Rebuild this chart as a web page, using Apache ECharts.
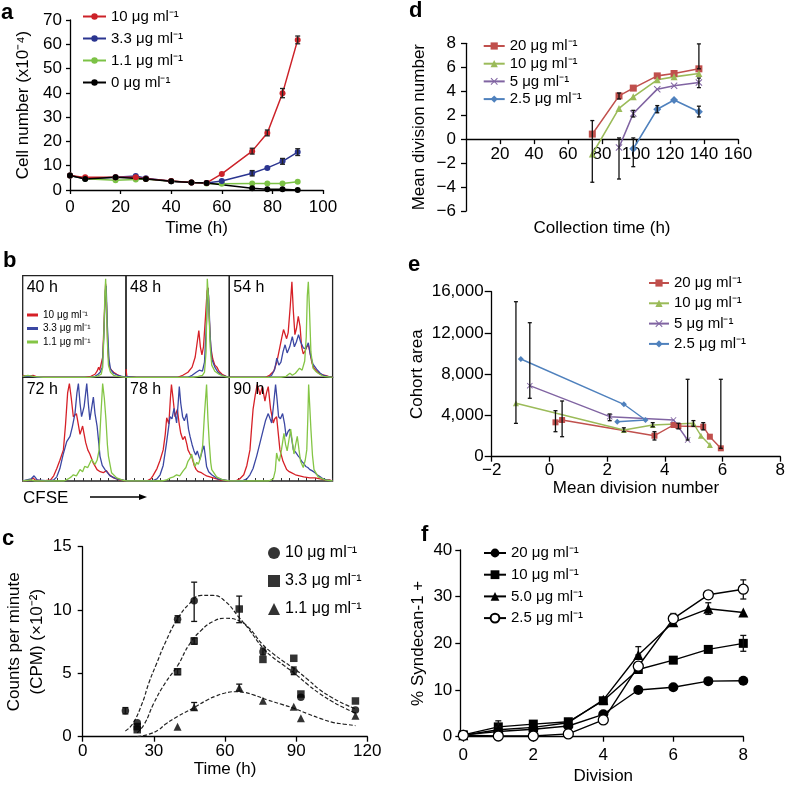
<!DOCTYPE html>
<html><head><meta charset="utf-8">
<script src="https://cdn.jsdelivr.net/npm/echarts@6/dist/echarts.min.js"></script>
<style>html,body{margin:0;padding:0;background:#fff}#c{width:788px;height:787px}</style>
</head><body><div id="c"></div>
<script>
// ===== Panel a: cell number vs time =====
const aTime  = [0, 6, 18, 26, 30, 40, 48, 54, 60, 72, 78, 84, 90];
const aRed   = [6.0, 5.2, 5.3, 5.2, 4.6, 3.7, 3.1, 2.9, 6.6, 16.0, 23.5, 39.8, 61.8];
const aBlue  = [6.0, 4.7, 5.2, 5.8, 4.8, 3.6, 3.1, 2.9, 3.7, 6.9, 9.1, 11.8, 15.6];
const aGreen = [6.0, 4.6, 4.0, 4.3, 4.5, 3.6, 3.1, 2.7, 2.6, 2.7, 2.7, 2.7, 3.4];
const aBlack = [6.0, 4.5, 5.2, null, 4.5, 3.6, 3.1, 2.9, null, 0.7, 0.3, 0.3, 0.0];
const aErr   = [[72,14.8,17.2],[78,22.3,24.7],[84,38.0,41.8],[90,60.2,63.4],[72,5.8,8.0],[84,10.6,13.0],[90,14.2,17.0]];
const aLegend = ['10 μg ml⁻¹', '3.3 μg ml⁻¹', '1.1 μg ml⁻¹', '0 μg ml⁻¹'];

// ===== Panel b: CFSE histograms [x %, height %] =====
const bTimes = ['40 h', '48 h', '54 h', '72 h', '78 h', '90 h'];
const bLegend = ['10 μg ml⁻¹', '3.3 μg ml⁻¹', '1.1 μg ml⁻¹'];
const b40Red = [[0,2],[5,1],[10,2],[15,0],[60,0],[66,1],[70,3],[72,6],[73.5,10],[74.5,7],[76,6],[77.5,20],[79,60],[80.3,92],[81.2,70],[82.5,25],[84,10],[86,7],[88,5],[91,3],[95,1],[100,0]];
const b40Blue = [[0,1],[10,1],[15,0],[65,0],[70,1],[73,3],[75,5],[77,10],[78.5,40],[80,85],[80.8,90],[82,50],[83.5,18],[85,8],[88,4],[92,2],[96,1],[100,0]];
const b40Green = [[0,1],[5,2],[10,1],[20,0],[65,0],[72,1],[76,3],[77.5,10],[78.5,40],[79.5,80],[80.3,97],[81,75],[82,35],[83,12],[85,5],[88,2],[92,1],[100,0]];
const b48Red = [[0,8],[0.8,1],[10,0],[50,0],[55,2],[60,5],[64,10],[67,20],[69,35],[70.5,46],[72,30],[73.5,22],[75,30],[77,60],[78.5,85],[79.5,88],[80.5,60],[82,30],[84,18],[86,12],[88,10],[90,6],[93,3],[97,1],[100,0]];
const b48Blue = [[0,1],[10,0],[60,0],[64,2],[68,5],[71,7],[72.5,8],[74,6],[76,15],[78,55],[79,88],[80,80],[81.5,40],[83,18],[86,10],[89,5],[93,2],[100,0]];
const b48Green = [[0,0],[65,0],[70,1],[74,2],[76,5],[77.5,25],[78.7,97],[80,75],[81.5,30],[83,12],[86,6],[90,3],[95,1],[100,0]];
const b54Red = [[0,0],[35,0],[39,2],[43,6],[46,15],[49,30],[51,40],[52.5,47],[54,48],[55.5,38],[57,44],[59,70],[60.6,94],[62,65],[63.5,42],[65,48],[66.8,60],[68.5,50],[70,30],[71.6,23],[73.5,26],[75,30],[76.5,32],[78,25],[80,14],[82,9],[84.5,6],[88,3],[92.6,2],[96,1],[100,0]];
const b54Blue = [[0,0],[38,0],[41,2],[44,8],[46,19],[48,12],[50,15],[52,25],[54,32],[56,24],[58.5,30],[61,40],[63,30],[65,35],[67,42],[69,35],[71.6,29],[74,28],[76.5,34],[78.5,22],[81,13],[84.5,8],[88,4],[91,2],[95,1],[100,0]];
const b54Green = [[0,0],[50,0],[55,1],[58.7,4],[61,2],[64,4],[68,9],[70.5,7],[73,16],[74.5,40],[75.5,80],[76.5,94],[77.5,70],[79,25],[81,9],[83.5,6],[86,4],[91,1],[100,0]];
const b72Red = [[0,0],[8,1],[10,3],[12,1],[20,0],[27,1],[30,5],[33,12],[36,20],[39.4,30],[41.5,55],[43.5,85],[45.2,94],[47,80],[49,62],[52,65],[55.5,45],[58,53],[61,37],[63,30],[65,26],[68,18],[72,11],[75,9],[78,8],[81,10],[84,6],[88,3],[94,1],[100,0]];
const b72Blue = [[0,0],[8,2],[11,5],[14,1],[25,0],[30,1],[33,4],[36,12],[39,25],[42.6,38],[45.8,43],[48,52],[50.6,65],[52.5,85],[53.9,94],[55.5,75],[57,62],[59.5,72],[62,94],[63.5,75],[65,59],[67,72],[68.4,81],[70,65],[72,53],[73.5,38],[74.8,24],[77,15],[79.7,11],[84.5,5],[91,2],[96,1],[100,0]];
const b72Green = [[0,0],[8,1],[12,0],[40,0],[44,2],[47,4],[49,6],[52,5],[55.5,11],[58,9],[60,14],[63,13],[66.8,21],[68.5,18],[70,16],[72,20],[74,30],[75.5,60],[77.4,94],[79,80],[80.6,59],[82,35],[83,24],[86,8],[91,3],[96,1],[100,0]];
const b78Red = [[0,0],[20,0],[24,2],[26,5],[30,12],[33,20],[36,30],[38,45],[39.4,61],[41.5,55],[43,80],[44,93],[45.5,80],[47.4,62],[49.7,69],[51.5,55],[53,46],[55,40],[57,43],[59,35],[60,30],[62,26],[63.5,24],[66,15],[68,11],[70,9],[73,8],[76,6],[78,5],[84.5,3],[91,1],[100,0]];
const b78Blue = [[0,0],[25,0],[30,2],[33,6],[36,15],[39,35],[41,50],[42.6,62],[44.5,60],[46.5,70],[49,56],[50.5,75],[51.6,91],[53,75],[54.8,62],[56.5,58],[58.7,65],[60.5,50],[62,43],[64,35],[65.8,29],[67.5,25],[69,29],[70.5,24],[71.6,21],[73.5,28],[75.5,34],[77,22],[78,14],[80,9],[83,6],[89,2],[95,1],[100,0]];
const b78Green = [[0,0],[35,0],[39,1],[43,3],[46,4],[49,6],[52,5],[55.5,10],[58,13],[60,19],[62,22],[63.5,26],[65,20],[66.8,14],[68.5,18],[70,16],[72,22],[74.2,34],[76,65],[78,93],[79.3,60],[80.6,37],[82,18],[83,11],[87.7,4],[94,1],[100,0]];
const b90Red = [[0,0],[6,0],[10,2],[14,6],[17,15],[20,30],[21.5,50],[23,69],[25,82],[27,93],[28.5,88],[29.7,83],[32,91],[34.5,77],[36,85],[37.7,91],[40,69],[42.6,56],[44,60],[45.8,62],[47.5,45],[49,30],[52,19],[55.5,11],[58,9],[60,8],[64,6],[68,5],[72,4],[78,3],[83,3],[88,2],[93,1],[97,1],[100,0]];
const b90Blue = [[0,0],[12,0],[17,2],[20,6],[23,12],[26.5,24],[30,38],[33,50],[35,58],[37.7,65],[39.5,60],[41,56],[43,75],[44.8,93],[46.3,78],[47.7,62],[49.5,60],[51.6,65],[53.5,55],[55,43],[57,48],[58.7,50],[60.5,40],[62,30],[64,28],[66.8,24],[68.5,22],[70,19],[72,17],[74,14],[76,13],[78,11],[80,10],[83,8],[85,6],[88,4],[91,2],[94,1],[100,0]];
const b90Green = [[0,0],[38,0],[42.6,2],[44.5,10],[45.8,27],[47,22],[48.4,19],[50.5,30],[52.9,46],[54.5,35],[56,29],[57.8,40],[59.4,50],[61,38],[62.6,26],[64.2,35],[65.8,43],[67.5,30],[69,19],[71.6,13],[73.5,20],[75,30],[76,60],[76.8,93],[78,70],[79,50],[80.5,25],[82,11],[86,4],[92.6,1],[100,0]];
const bCurves = [[b40Red,b40Blue,b40Green],[b48Red,b48Blue,b48Green],[b54Red,b54Blue,b54Green],[b72Red,b72Blue,b72Green],[b78Red,b78Blue,b78Green],[b90Red,b90Blue,b90Green]];

// ===== Panel c: CPM =====
const cLegend = ['10 μg ml⁻¹', '3.3 μg ml⁻¹', '1.1 μg ml⁻¹'];
const cCircleT = [18, 23, 40, 47, 76, 89, 92, 115];
const cCircle  = [2.05, 1.1, 9.27, 10.74, 6.71, 5.19, 3.11, 2.1];
const cSquareT = [23, 23, 40, 47, 66, 76, 89, 92, 115];
const cSquare  = [0.8, 0.55, 5.13, 7.55, 10.08, 6.1, 6.19, 3.37, 2.82];
const cTriT    = [40, 47, 66, 76, 89, 92, 115];
const cTri     = [0.79, 2.32, 3.87, 2.84, 2.37, 1.45, 1.66];
const cFitCircleT = [18, 21, 25, 28, 31, 35, 40, 45, 50, 55, 60, 66, 70, 76, 80, 85, 89, 95, 100, 105, 110, 115];
const cFitCircle  = [0.45, 1.0, 2.6, 4.3, 5.7, 7.5, 9.3, 10.5, 11.15, 11.15, 10.7, 9.4, 8.5, 7.0, 6.3, 5.6, 5.05, 4.1, 3.4, 2.8, 2.3, 1.85];
const cFitSquareT = [23, 26, 30, 35, 40, 45, 50, 55, 60, 66, 70, 76, 80, 85, 89, 95, 100, 105, 110, 115];
const cFitSquare  = [0.3, 1.0, 2.65, 4.3, 5.6, 7.3, 8.4, 9.1, 9.35, 9.15, 8.6, 7.25, 6.6, 5.9, 5.4, 4.5, 3.7, 3.1, 2.6, 2.2];
const cFitTriT = [23, 28, 32, 35, 40, 47, 52, 56, 60, 64, 68, 72, 78, 84, 89, 95, 100, 105, 110, 115];
const cFitTri  = [0, 0.2, 0.55, 1.0, 1.6, 2.3, 2.85, 3.2, 3.45, 3.55, 3.5, 3.3, 2.9, 2.55, 2.25, 1.8, 1.45, 1.15, 1.0, 0.88];
const cErr = [[18,1.8,2.3],[40,9.0,9.55],[47,9.1,12.2],[66,9.0,11.1],[47,2.1,2.7],[66,3.6,4.15],[40,4.9,5.35],[47,7.3,7.8],[76,6.45,7.0],[89,4.9,5.5]];

// ===== Panel d: mean division number =====
const dLegend = ['20 μg ml⁻¹', '10 μg ml⁻¹', '5 μg ml⁻¹', '2.5 μg ml⁻¹'];
const dTime = [74.3, 90, 98.4, 112.5, 122.4, 137];
const d20  = [0.42, 3.61, 4.26, 5.28, 5.48, 5.87];
const d10  = [-1.25, 2.56, 3.53, 4.95, 5.2, 5.48];
const d5   = [null, -0.7, 2.14, 4.17, 4.45, 4.73];
const d2_5 = [null, null, -0.8, 2.5, 3.26, 2.28];
const dErr = [[74.3,-3.6,1.55],[90,-3.33,0.1],[98.4,-2.3,0.1],[137,5.87,7.95],[90,3.35,3.85],[98.4,1.85,2.4],[112.5,2.2,2.8],[137,4.3,5.1],[137,1.85,2.75]];

// ===== Panel e: cohort area =====
const eLegend = ['20 μg ml⁻¹', '10 μg ml⁻¹', '5 μg ml⁻¹', '2.5 μg ml⁻¹'];
const eRedX = [0.21, 0.44, 3.64, 4.30, 4.47, 5.33, 5.56, 5.94];
const eRedY = [3333, 3556, 2036, 3074, 2977, 2909, 1940, 814];
const eGreenX = [-1.16, 2.58, 3.58, 4.99, 5.25, 5.56];
const eGreenY = [5178, 2589, 3074, 3239, 2036, 1134];
const ePurpleX = [-0.68, 2.09, 4.30, 4.79];
const ePurpleY = [6885, 3879, 3559, 1619];
const eBlueX = [-0.99, 2.58, 3.33, 2.35];
const eBlueY = [9474, 5081, 3559, 3394];
const eErr = [[-1.16,3232,15030],[-0.68,5663,12994],[0.21,2424,4461],[0.44,1940,5401],[2.09,3491,4140],[3.64,1620,2424],[4.79,1620,7505],[5.94,814,7505],[2.58,2420,2800],[3.58,2900,3300],[4.47,2700,3250],[4.99,2950,3500],[5.33,2600,3300]];

// ===== Panel f: % Syndecan-1+ =====
const fLegend = ['20 μg ml⁻¹', '10 μg ml⁻¹', '5.0 μg ml⁻¹', '2.5 μg ml⁻¹'];
const fDiv = [0, 1, 2, 3, 4, 5, 6, 7, 8];
const f20  = [0.4, 1.1, 1.6, 2.3, 4.8, 10.0, 10.6, 11.9, 12.0];
const f10  = [0.4, 2.1, 2.7, 3.2, 7.7, 14.4, 16.4, 18.7, 20.0];
const f5   = [0.3, 1.5, 2.0, 3.0, 7.9, 17.5, 24.5, 27.4, 26.6];
const f2_5 = [0.3, 0.15, 0.15, 0.6, 3.6, 15.1, 25.3, 30.4, 31.6];
const fErr = [[1,2.1,3.4],[5,17.5,19.3],[7,26.2,28.7],[8,29.5,33.6],[8,18.3,21.7],[6,24.2,26.4]];

// ================= build =================
const FONT = '"Liberation Sans", Arial, Helvetica, sans-serif';
const K = '#000';
function merge(a, b) {
  const o = Array.isArray(a) ? a.slice() : Object.assign({}, a);
  for (const k in b) {
    if (b[k] && typeof b[k] === 'object' && !Array.isArray(b[k]) && a[k] && typeof a[k] === 'object') o[k] = merge(a[k], b[k]);
    else o[k] = b[k];
  }
  return o;
}
function vAxis(gi, o) {
  return merge({
    gridIndex: gi, type: 'value', nameLocation: 'middle',
    axisLine: {show: true, onZero: false, lineStyle: {color: K, width: 1.3}},
    axisTick: {show: true, length: 5, lineStyle: {color: K, width: 1.3}},
    axisLabel: {color: K, fontSize: 17, fontFamily: FONT},
    splitLine: {show: false},
    nameTextStyle: {color: K, fontSize: 17, fontFamily: FONT}
  }, o || {});
}
const zip = (xs, ys) => xs.map((x, i) => [x, ys[i]]);
const minus = v => (v < 0 ? '−' + Math.abs(v) : String(v));
const strip = n => n.slice(n.indexOf('|') + 1);

function errSeries(name, xi, data, cap, color) {
  return {
    name, type: 'custom', xAxisIndex: xi, yAxisIndex: xi, data, z: 5,
    encode: {x: 0, y: [1, 2]},
    renderItem: (params, api) => {
      const x = api.value(0), lo = api.value(1), hi = api.value(2);
      const p = api.coord([x, lo]), q = api.coord([x, hi]);
      const st = {stroke: color || '#111', lineWidth: 1.3};
      return {type: 'group', children: [
        {type: 'line', shape: {x1: p[0], y1: p[1], x2: q[0], y2: q[1]}, style: st},
        {type: 'line', shape: {x1: p[0] - cap, y1: p[1], x2: p[0] + cap, y2: p[1]}, style: st},
        {type: 'line', shape: {x1: q[0] - cap, y1: q[1], x2: q[0] + cap, y2: q[1]}, style: st}
      ]};
    }
  };
}

const grids = [], xAxes = [], yAxes = [], series = [], legends = [], graphics = [];

// ---- a (index 0)
grids.push({left: 70, top: 20, width: 253, height: 170});
xAxes.push(vAxis(0, {min: 0, max: 100, interval: 20, name: 'Time (h)', nameGap: 30, axisLabel: {margin: 9}, axisTick: {length: 4}}));
yAxes.push(vAxis(0, {min: 0, max: 70, interval: 10, name: 'Cell number (x10⁻⁴)', nameGap: 38, axisLabel: {margin: 8}, axisTick: {length: 4}}));
const aCols = ['#cc2229', '#2b3590', '#7cc246', '#000000'];
const aData = [aRed, aBlue, aGreen, aBlack];
const aOrder = [2, 1, 0, 3];
aOrder.forEach(i => {
  series.push({name: 'a|' + aLegend[i], type: 'line', xAxisIndex: 0, yAxisIndex: 0, data: zip(aTime, aData[i]), connectNulls: true,
    symbol: 'circle', symbolSize: 6, color: aCols[i], lineStyle: {width: 1.5, color: aCols[i]}, itemStyle: {color: aCols[i]}, z: 3});
});
series.push(errSeries('a-err', 0, aErr, 2.5, '#222'));
legends.push({left: 82, top: 8.5, orient: 'vertical', padding: 0, itemWidth: 23, itemHeight: 8, itemGap: 6, selectedMode: false,
  textStyle: {fontSize: 15, lineHeight: 16, fontFamily: FONT, color: K}, formatter: strip, data: aLegend.map(n => 'a|' + n)});

// ---- b (index 1..6)
const bLeft = [22.7, 126, 229.3], bTop = [275.7, 377.3], bH = [101.6, 103.7];
const bCols = ['#d62027', '#3b47a3', '#84c545'];
for (let k = 0; k < 6; k++) {
  const gi = 1 + k, r = Math.floor(k / 3), c = k % 3;
  grids.push({left: bLeft[c], top: bTop[r], width: 103.3, height: bH[r], show: true, borderColor: '#222', borderWidth: 1.3, backgroundColor: 'transparent'});
  xAxes.push({gridIndex: gi, type: 'value', min: 0, max: 100, interval: 8.33, show: r === 1,
    axisLine: {show: false}, axisLabel: {show: false}, splitLine: {show: false},
    axisTick: {show: true, length: 3, inside: true, lineStyle: {color: '#333', width: 1}}});
  yAxes.push({gridIndex: gi, type: 'value', min: 0, max: 100, show: false, splitLine: {show: false}});
  bCurves[k].forEach((d, j) => {
    series.push({name: (k === 0 ? 'b|' : 'b' + k + '|') + bLegend[j], type: 'line', xAxisIndex: gi, yAxisIndex: gi, data: d,
      showSymbol: false, symbol: 'none', color: bCols[j], lineStyle: {width: 1.3, color: bCols[j]}, z: 2 + j});
  });
  graphics.push({type: 'text', left: bLeft[c] + 4, top: bTop[r] + 4, z: 20,
    style: {text: bTimes[k], font: '16px ' + FONT, fill: K}});
}
legends.push({left: 27, top: 309.5, orient: 'vertical', padding: 0, itemWidth: 11, itemHeight: 3, itemGap: 2.5, icon: 'rect', selectedMode: false,
  textStyle: {fontSize: 10, lineHeight: 11, fontFamily: FONT, color: K}, formatter: strip, data: bLegend.map(n => 'b|' + n)});

// ---- c (index 7)
grids.push({left: 82.7, top: 546.7, width: 284.6, height: 190});
xAxes.push(vAxis(7, {min: 0, max: 120, interval: 30, name: 'Time (h)', nameGap: 21, axisLabel: {margin: 6}}));
yAxes.push(vAxis(7, {min: 0, max: 15, interval: 5, name: 'Counts per minute\n(CPM) (×10⁻²)', nameGap: 33,
  nameTextStyle: {lineHeight: 23}, axisLabel: {margin: 11}}));
[[cFitCircleT, cFitCircle], [cFitSquareT, cFitSquare], [cFitTriT, cFitTri]].forEach((p, i) => {
  series.push({name: 'cfit' + i, type: 'line', xAxisIndex: 7, yAxisIndex: 7, data: zip(p[0], p[1]), smooth: true, showSymbol: false, symbol: 'none',
    lineStyle: {color: '#222', width: 1.2, type: [4, 2]}, z: 2});
});
const cSyms = ['circle', 'rect', 'triangle'];
[[cCircleT, cCircle], [cSquareT, cSquare], [cTriT, cTri]].forEach((p, i) => {
  series.push({name: 'c|' + cLegend[i], type: 'scatter', xAxisIndex: 7, yAxisIndex: 7, data: zip(p[0], p[1]), symbol: cSyms[i],
    symbolSize: i === 2 ? 8 : 7.5, color: K, itemStyle: {color: K}, z: 4});
});
series.push(errSeries('c-err', 7, cErr, 3, '#111'));
legends.push({left: 268, top: 545, orient: 'vertical', padding: 0, itemWidth: 12, itemHeight: 12, itemGap: 12, selectedMode: false,
  textStyle: {fontSize: 16, lineHeight: 16, fontFamily: FONT, color: K}, formatter: strip, data: cLegend.map(n => 'c|' + n)});

// ---- d (index 8): x axis drawn at y = 0 (grid height 167.7 spans -6..8)
grids.push({left: 466, top: 43.3, width: 272, height: 167.7});
xAxes.push(vAxis(8, {min: 0, max: 160, interval: 20, name: 'Collection time (h)', nameGap: 81,
  offset: -167.7 * 6 / 14, axisLabel: {margin: 7, showMinLabel: false}}));
yAxes.push(vAxis(8, {min: -6, max: 8, interval: 2, name: 'Mean division number', nameGap: 38, axisLabel: {margin: 10, formatter: minus}}));
const xcol = ['#C0504D', '#9BBB59', '#8064A2', '#4F81BD'];
const XSYM = 'path://M1,0 L5,4 L9,0 L10,1 L6,5 L10,9 L9,10 L5,6 L1,10 L0,9 L4,5 L0,1 Z';
const dSyms = ['rect', 'triangle', XSYM, 'diamond'];
[d20, d10, d5, d2_5].forEach((v, i) => {
  series.push({name: 'd|' + dLegend[i], type: 'line', xAxisIndex: 8, yAxisIndex: 8, data: zip(dTime, v), connectNulls: false,
    symbol: dSyms[i], symbolSize: i === 3 ? 8 : 7, color: xcol[i], itemStyle: {color: xcol[i]}, lineStyle: {width: 1.6, color: xcol[i]}, z: 3});
});
series.push(errSeries('d-err', 8, dErr, 2, '#111'));
legends.push({left: 482.7, top: 38.5, orient: 'vertical', padding: 0, itemWidth: 21, itemHeight: 9, itemGap: 2.7, selectedMode: false,
  textStyle: {fontSize: 15, lineHeight: 15, fontFamily: FONT, color: K}, formatter: strip, data: dLegend.map(n => 'd|' + n)});

// ---- e (index 9)
grids.push({left: 491.7, top: 291.7, width: 291, height: 165});
xAxes.push(vAxis(9, {min: -2, max: 8, interval: 2, name: 'Mean division number', nameGap: 22, axisLabel: {margin: 5, formatter: minus}}));
yAxes.push(vAxis(9, {min: 0, max: 16000, interval: 4000, name: 'Cohort area', nameGap: 66, axisTick: {length: 7},
  axisLabel: {margin: 8, formatter: v => v.toLocaleString('en-US')}}));
[[eRedX, eRedY], [eGreenX, eGreenY], [ePurpleX, ePurpleY], [eBlueX, eBlueY]].forEach((p, i) => {
  series.push({name: 'e|' + eLegend[i], type: 'line', xAxisIndex: 9, yAxisIndex: 9, data: zip(p[0], p[1]),
    symbol: dSyms[i], symbolSize: 6, color: xcol[i], itemStyle: {color: xcol[i]}, lineStyle: {width: 1.4, color: xcol[i]}, z: 3});
});
series.push(errSeries('e-err', 9, eErr, 2, '#111'));
legends.push({left: 648, top: 275.5, orient: 'vertical', padding: 0, itemWidth: 20, itemHeight: 9, itemGap: 5.3, selectedMode: false,
  textStyle: {fontSize: 15, lineHeight: 15, fontFamily: FONT, color: K}, formatter: strip, data: eLegend.map(n => 'e|' + n)});

// ---- f (index 10)
grids.push({left: 463.3, top: 550, width: 280, height: 186.7});
xAxes.push(vAxis(10, {min: 0, max: 8, interval: 2, name: 'Division', nameGap: 31, axisLabel: {margin: 10}}));
yAxes.push(vAxis(10, {min: 0, max: 40, interval: 10, offset: 3, name: '% Syndecan-1 +', nameGap: 33, axisLabel: {margin: 8}}));
const fSyms = ['circle', 'rect', 'triangle', 'circle'];
[f20, f10, f5, f2_5].forEach((v, i) => {
  const open = i === 3;
  series.push({name: 'f|' + fLegend[i], type: 'line', xAxisIndex: 10, yAxisIndex: 10, data: zip(fDiv, v),
    symbol: fSyms[i], symbolSize: i === 1 ? 9 : 10, color: K,
    itemStyle: open ? {color: '#fff', borderColor: K, borderWidth: 1.3} : {color: K},
    lineStyle: {width: 1.4, color: K}, z: 3 + i});
});
series.push(errSeries('f-err', 10, fErr, 3, '#111'));
legends.push({left: 483, top: 545, orient: 'vertical', padding: 0, itemWidth: 22, itemHeight: 11, itemGap: 5.7, selectedMode: false,
  textStyle: {fontSize: 15, lineHeight: 16, fontFamily: FONT, color: K}, formatter: strip, data: fLegend.map(n => 'f|' + n)});

// ---- panel letters & CFSE
[['a', 1, 2], ['b', 3, 250], ['c', 2, 528], ['d', 409, 0], ['e', 408, 254], ['f', 421, 524]].forEach(t => {
  graphics.push({type: 'text', left: t[1], top: t[2], style: {text: t[0], font: 'bold 22px ' + FONT, fill: K}});
});
graphics.push({type: 'text', left: 23, top: 490, style: {text: 'CFSE', font: '17px ' + FONT, fill: K}});
graphics.push({type: 'line', shape: {x1: 90, y1: 497, x2: 140, y2: 497}, style: {stroke: K, lineWidth: 1.3}});
graphics.push({type: 'polygon', shape: {points: [[147, 497], [139, 494], [139, 500]]}, style: {fill: K}});

const chart = echarts.init(document.getElementById('c'), null, {renderer: 'canvas'});
chart.setOption({
  backgroundColor: '#fff', animation: false,
  grid: grids, xAxis: xAxes, yAxis: yAxes, series, legend: legends, graphic: graphics
});
</script></body></html>
